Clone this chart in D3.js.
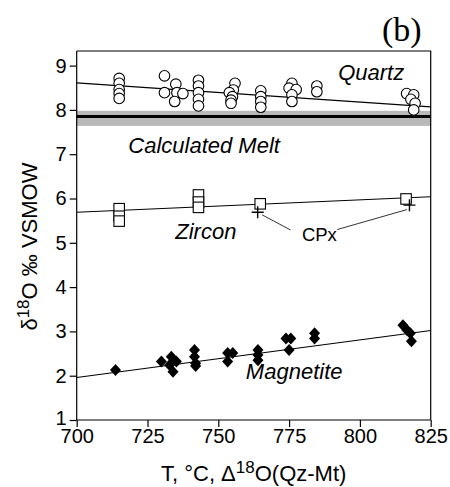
<!DOCTYPE html>
<head>
    <script src="https://d3js.org/d3.v7.min.js"></script>
    <style>
        body { margin: 0; background: #fff; }
        text { font-family: "Liberation Sans", Arial, sans-serif; fill: #000; }
    </style>
</head>

<body>
    <div id="chart"></div>
</body>

<script>
    // quartz (circles)
    const quartzT = [715, 715, 715, 715, 715,
        731, 731, 735, 735.4, 737.5, 734.6,
        743, 743, 743, 743, 743,
        755.9, 755.3, 753.9, 755, 754.5, 754.5,
        765, 765, 765, 765,
        776, 775, 777.5, 776, 776,
        784.8, 784.8,
        816.5, 819, 818, 819.5, 819];
    const quartzD = [8.71, 8.60, 8.46, 8.37, 8.26,
        8.77, 8.39, 8.58, 8.39, 8.37, 8.19,
        8.67, 8.54, 8.39, 8.24, 8.09,
        8.60, 8.45, 8.39, 8.30, 8.22, 8.15,
        8.43, 8.30, 8.19, 8.06,
        8.60, 8.49, 8.46, 8.34, 8.19,
        8.54, 8.41,
        8.37, 8.34, 8.24, 8.15, 8.00];

    // zircon (squares)
    const zirconT = [715, 715, 715, 743, 743, 743, 764.8, 816.3];
    const zirconD = [5.77, 5.60, 5.49, 6.08, 5.92, 5.80, 5.88, 5.99];

    // clinopyroxene (crosses)
    const cpxT = [763.9, 817.5];
    const cpxD = [5.69, 5.85];

    // magnetite (diamonds)
    const magT = [713.7,
        729.9, 733.4, 735.2, 732.8, 734,
        741.6, 741.6, 742, 742,
        753.3, 755.1, 753.3,
        764, 764, 764,
        773.9, 775.6, 775,
        784, 784,
        815.2, 816.6, 817.8, 818.2];
    const magD = [2.13,
        2.32, 2.43, 2.32, 2.24, 2.09,
        2.58, 2.43, 2.28, 2.22,
        2.51, 2.51, 2.32,
        2.58, 2.47, 2.35,
        2.84, 2.84, 2.58,
        2.96, 2.84,
        3.14, 3.03, 2.96, 2.78];

    // fitted lines, value at T = 700 and T = 825
    const lineEnds = [700, 825];
    const quartzLine = [8.61, 8.07];
    const zirconLine = [5.69, 6.04];
    const magLine = [1.96, 3.02];

    // calculated melt: band and central value
    const meltBand = [7.64, 7.98];
    const meltValue = 7.85;

    const xTicks = [700, 725, 750, 775, 800, 825];
    const yTicks = [1, 2, 3, 4, 5, 6, 7, 8, 9];

    const margin = {top: 51, right: 19.3, bottom: 67, left: 76.7},
        width = 450 - margin.left - margin.right,
        height = 487 - margin.top - margin.bottom;

    const svg = d3.select("#chart")
        .append("svg")
        .attr("width", 450)
        .attr("height", 487)
        .append("g")
        .attr("transform", `translate(${margin.left},${margin.top})`);

    const x = d3.scaleLinear().domain([700, 825]).range([0, width]);
    const y = d3.scaleLinear().domain([1, 9.33]).range([height, 0]);

    // melt band
    svg.append("rect")
        .attr("x", 0)
        .attr("width", width)
        .attr("y", y(meltBand[1]))
        .attr("height", y(meltBand[0]) - y(meltBand[1]))
        .attr("fill", "#b8b8b8");
    svg.append("line")
        .attr("x1", 0).attr("x2", width)
        .attr("y1", y(meltValue)).attr("y2", y(meltValue))
        .attr("stroke", "#000").attr("stroke-width", 3);

    // frame top/right
    svg.append("path")
        .attr("d", `M0,0H${width}V${height}`)
        .attr("fill", "none").attr("stroke", "#000").attr("stroke-width", 1.2);

    // fit lines
    [quartzLine, zirconLine, magLine].forEach(l => {
        svg.append("line")
            .attr("x1", x(lineEnds[0])).attr("x2", x(lineEnds[1]))
            .attr("y1", y(l[0])).attr("y2", y(l[1]))
            .attr("stroke", "#000").attr("stroke-width", 1.2);
    });

    // quartz circles
    svg.selectAll(".qz")
        .data(d3.zip(quartzT, quartzD))
        .join("circle")
        .attr("cx", d => x(d[0]))
        .attr("cy", d => y(d[1]))
        .attr("r", 5.3)
        .attr("fill", "#fff").attr("stroke", "#000").attr("stroke-width", 1.1);

    // zircon squares
    const sq = 10.5;
    svg.selectAll(".zr")
        .data(d3.zip(zirconT, zirconD))
        .join("rect")
        .attr("x", d => x(d[0]) - sq / 2)
        .attr("y", d => y(d[1]) - sq / 2)
        .attr("width", sq).attr("height", sq)
        .attr("fill", "#fff").attr("stroke", "#000").attr("stroke-width", 1.1);

    // cpx crosses
    const cs = 6;
    svg.selectAll(".cpx")
        .data(d3.zip(cpxT, cpxD))
        .join("path")
        .attr("d", d => `M${x(d[0]) - cs},${y(d[1])}H${x(d[0]) + cs}M${x(d[0])},${y(d[1]) - cs}V${y(d[1]) + cs}`)
        .attr("stroke", "#000").attr("stroke-width", 1.4);

    // magnetite diamonds
    svg.selectAll(".mt")
        .data(d3.zip(magT, magD))
        .join("path")
        .attr("transform", d => `translate(${x(d[0])},${y(d[1])})`)
        .attr("d", "M0,-6L5.5,0L0,6L-5.5,0Z")
        .attr("fill", "#000");

    // CPx leader lines
    const leaders = [[765.5, 5.63, 775.5, 5.29], [792, 5.30, 816.6, 5.75]];
    leaders.forEach(l => {
        svg.append("line")
            .attr("x1", x(l[0])).attr("y1", y(l[1]))
            .attr("x2", x(l[2])).attr("y2", y(l[3]))
            .attr("stroke", "#000").attr("stroke-width", 0.8);
    });

    // labels
    const labels = [
        {t: "Quartz", x: 804, y: 8.67, it: true},
        {t: "Calculated Melt", x: 745, y: 7.03, it: true},
        {t: "Zircon", x: 745.6, y: 5.08, it: true},
        {t: "CPx", x: 785.7, y: 5.03, it: false},
        {t: "Magnetite", x: 776.8, y: 1.92, it: true}
    ];
    svg.selectAll(".lab")
        .data(labels)
        .join("text")
        .attr("x", d => x(d.x))
        .attr("y", d => y(d.y))
        .attr("text-anchor", "middle")
        .style("font-size", d => d.it ? "22px" : "18.5px")
        .style("font-style", d => d.it ? "italic" : "normal")
        .text(d => d.t);

    // axes
    const xAxis = svg.append("g")
        .attr("transform", `translate(0,${height})`)
        .call(d3.axisBottom(x).tickValues(xTicks).tickSize(7).tickPadding(2).tickFormat(d3.format("d")));
    const yAxis = svg.append("g")
        .call(d3.axisLeft(y).tickValues(yTicks).tickSize(7).tickPadding(3).tickFormat(d3.format("d")));
    [xAxis, yAxis].forEach(a => {
        a.select(".domain").attr("stroke-width", 1.2);
        a.selectAll("line").attr("stroke-width", 1.2);
        a.selectAll("text").style("font-size", "20px").attr("font-family", null);
    });
    yAxis.select(".domain").attr("d", `M0,${height}V0`);
    xAxis.select(".domain").attr("d", `M0,0H${width}`);
    // lift the bottom y label a little so it clears "700"
    yAxis.selectAll(".tick text").filter(d => d === 1).attr("dy", "0.22em");

    // x title
    const xt = svg.append("text")
        .attr("x", width / 2)
        .attr("y", height + 61)
        .attr("text-anchor", "middle")
        .style("font-size", "22px");
    xt.append("tspan").text("T, \u00B0C, \u0394");
    xt.append("tspan").attr("dy", -8).style("font-size", "17px").text("18");
    xt.append("tspan").attr("dy", 8).text("O(Qz-Mt)");

    // y title
    const yt = svg.append("text")
        .attr("transform", `translate(-40,${height * 0.53}) rotate(-90)`)
        .attr("text-anchor", "middle")
        .style("font-size", "22px");
    yt.append("tspan").text("\u03B4");
    yt.append("tspan").attr("dy", -8).style("font-size", "17px").text("18");
    yt.append("tspan").attr("dy", 8).text("O \u2030 VSMOW");

    // panel tag
    svg.append("text")
        .attr("x", width - 9)
        .attr("y", -10)
        .attr("text-anchor", "end")
        .style("font-family", "'Liberation Serif', 'Times New Roman', serif")
        .style("font-size", "34px")
        .text("(b)");
</script>
</html>
